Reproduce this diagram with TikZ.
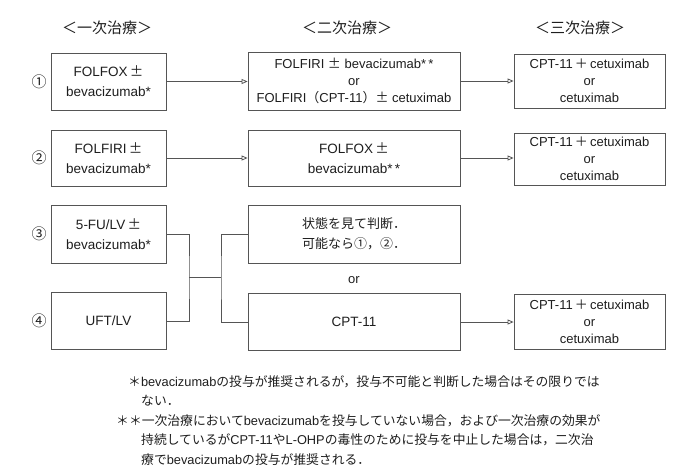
\documentclass[tikz,border=0pt]{standalone}
\usepackage{fontspec}
\setmainfont{Liberation Sans}
\newfontfamily\jp{Noto Sans CJK JP}
\usetikzlibrary{arrows.meta}
\definecolor{linegray}{HTML}{555555}
\definecolor{ink}{HTML}{1E1E1E}
\newcommand\La[1]{{\rmfamily #1}}
\begin{document}
\begin{tikzpicture}[x=1pt,y=-1pt,
  box/.style={draw=linegray, line width=0.8pt, fill=white, align=center, text=ink, inner sep=0pt,
    font=\fontsize{13}{17}\selectfont},
  c1/.style={box, minimum width=115pt, font=\fontsize{13.5}{20}\selectfont},
  c2/.style={box, minimum width=212pt},
  c3/.style={box, minimum width=151pt},
  head/.style={text=ink, font=\jp\fontsize{15}{18}\selectfont},
  num/.style={text=ink, font=\jp\fontsize{15}{18}\selectfont},
  conn/.style={draw=linegray, line width=0.8pt},
  arr/.style={draw=linegray, line width=0.8pt, -{Triangle[open,length=6pt,width=5pt]}},
  fn/.style={text=ink, anchor=base west, inner sep=0pt, font=\jp\fontsize{12.8}{16}\selectfont}
]
\useasboundingbox (0,0) rectangle (674,471);

% headers
\node[head] (h1) at (107,28) {＜一次治療＞};
\node[head] (h2) at (347,28) {＜二次治療＞};
\node[head] (h3) at (580,28) {＜三次治療＞};

% row numbers
\node[num] (n1) at (39,82) {①};
\node[num] (n2) at (39,158) {②};
\node[num] (n3) at (39,234) {③};
\node[num] (n4) at (39,321) {④};

% row 1
\node[c1, minimum height=57pt] (r1c1) at (108.5,81.5) {FOLFOX\,{\jp ±}\\bevacizumab*};
\node[c2, minimum height=58pt] (r1c2) at (354,81) {FOLFIRI {\jp ±} bevacizumab*\,*\\or\\FOLFIRI{\jp （}CPT-11{\jp ）}{\jp ±} cetuximab};
\node[c3, minimum height=54pt] (r1c3) at (589.5,81) {CPT-11\,{\jp ＋}\,cetuximab\\or\\cetuximab};

% row 2
\node[c1, minimum height=56pt] (r2c1) at (108.5,158) {FOLFIRI\,{\jp ±}\\bevacizumab*};
\node[c2, minimum height=56pt, font=\fontsize{13.5}{20}\selectfont] (r2c2) at (354,158) {FOLFOX\,{\jp ±}\\bevacizumab*\,*};
\node[c3, minimum height=52pt] (r2c3) at (589.5,159) {CPT-11\,{\jp ＋}\,cetuximab\\or\\cetuximab};

% row 3
\node[c1, minimum height=58pt] (r3c1) at (108.5,234) {5-FU/LV\,{\jp ±}\\bevacizumab*};
\node[c2, minimum height=58pt, font=\jp\fontsize{13}{20}\selectfont] (r3c2) at (354,234) {状態を見て判断．\\可能なら①，②．};

\node[text=ink, font=\fontsize{13}{15}\selectfont] (or) at (354,280) {or};

% row 4
\node[c1, minimum height=57pt] (r4c1) at (108.5,321) {UFT/LV};
\node[c2, minimum height=57pt, font=\fontsize{13.5}{17}\selectfont] (r4c2) at (354,322) {CPT-11};
\node[c3, minimum height=55pt] (r4c3) at (589.5,322) {CPT-11\,{\jp ＋}\,cetuximab\\or\\cetuximab};

% arrows
\draw[arr] (r1c1.east) -- (r1c1.east -| r1c2.west);
\draw[arr] (r1c2.east) -- (r1c2.east -| r1c3.west);
\draw[arr] (r2c1.east) -- (r2c1.east -| r2c2.west);
\draw[arr] (r2c2.east) -- (r2c2.east -| r2c3.west);
\draw[arr] (r4c2.east) -- (r4c2.east -| r4c3.west);

% junction for rows 3 and 4
\coordinate (jl) at (189,277);
\coordinate (jr) at (221,277);
\draw[conn] (r3c1.east) -| (jl) |- (r4c1.east);
\draw[conn] (jl) -- (jr);
\draw[conn] (r3c2.west) -| (jr) |- (r4c2.west);

% footnotes
\node[fn] (f1) at (128,386) {＊\La{bevacizumab}の投与が推奨されるが，投与不可能と判断した場合はその限りでは};
\node[fn] (f2) at (141,405.5) {ない．};
\node[fn] (f3) at (116,425) {＊＊一次治療において\La{bevacizumab}を投与していない場合，および一次治療の効果が};
\node[fn] (f4) at (141,444.5) {持続しているが\La{CPT-11}や\La{L-OHP}の毒性のために投与を中止した場合は，二次治};
\node[fn] (f5) at (141,464) {療で\La{bevacizumab}の投与が推奨される．};
\end{tikzpicture}
\end{document}
